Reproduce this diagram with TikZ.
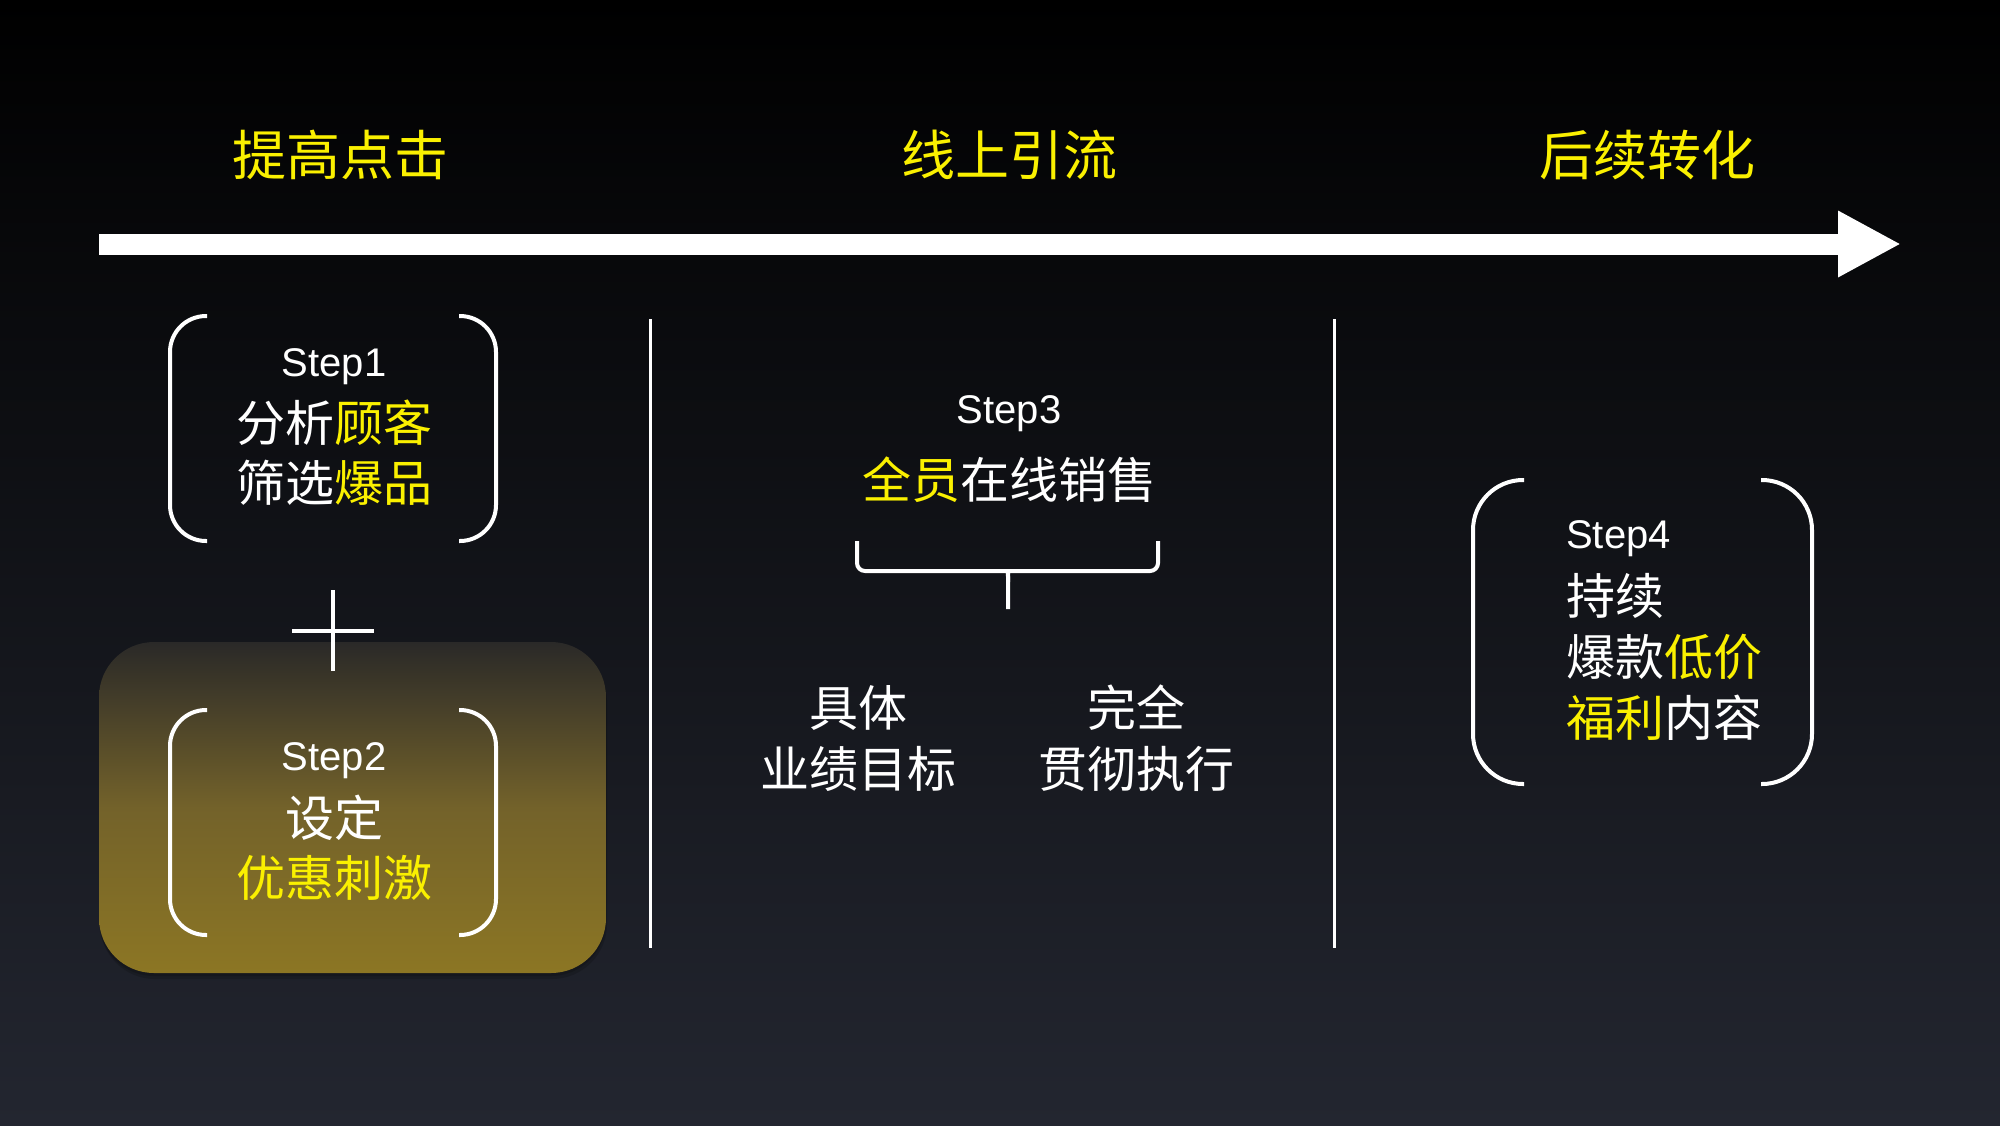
\documentclass[tikz,border=0pt]{standalone}
\usepackage{fontspec}
\setmainfont{Liberation Sans}
\newfontfamily\cjk{Noto Sans CJK SC}
\usetikzlibrary{arrows.meta}
\definecolor{bgbot}{RGB}{35,38,48}
\definecolor{ylw}{RGB}{250,240,0}
\definecolor{goldtop}{RGB}{42,41,40}
\definecolor{goldmid}{RGB}{115,98,42}
\definecolor{goldbot}{RGB}{140,118,36}
\newcommand{\yl}[1]{\textcolor{ylw}{#1}}

\begin{document}
\begin{tikzpicture}[x=1pt,y=-1pt]
  \tikzset{title/.style={text=ylw,font=\cjk\fontsize{54}{60}\selectfont,inner sep=0pt},
    body/.style={text=white,font=\cjk\fontsize{49}{59}\selectfont,inner sep=0pt},
    steplabel/.style={text=white,font=\fontsize{40}{48}\selectfont,inner sep=0pt,anchor=base},
    bracket/.style={draw=white,line width=4pt,rounded corners=#1},
    bracket/.default=36pt}

  % background
  \useasboundingbox (0,0) rectangle (2000,1125);
  \shade[top color=black,bottom color=bgbot] (0,0) rectangle (2000,1125);

  % timeline
  \node[title] (T1) at (340,155) {提高点击};
  \node[title] (T2) at (1009,155) {线上引流};
  \node[title] (T3) at (1647,155) {后续转化};
  \coordinate (L) at (99,244);
  \coordinate (R) at (1901,244);
  \draw[white,line width=21pt,-{Triangle[length=63pt,width=62pt]}] (L) -- (R);

  % step 1
  \node[steplabel] (S1) at (334,376) {Step1};
  \node[body] (S1a) at (334,423) {分析\yl{顾客}};
  \node[body] (S1b) at (334,483) {筛选\yl{爆品}};
  \draw[bracket] (207,316) -- (170,316) -- (170,541) -- (207,541);
  \draw[bracket] (459,316) -- (496,316) -- (496,541) -- (459,541);

  % step 2
  \fill[black,opacity=0.15,rounded corners=55pt] (100,646) rectangle (607,979);
  \fill[black,opacity=0.15,rounded corners=55pt] (99,644) rectangle (606,976);
  \shade[rounded corners=55pt,top color=goldtop,bottom color=goldbot,middle color=goldmid] (99,642) rectangle (606,973);
  \draw[white,line width=4pt] (292,631) -- (374,631) (333,590) -- (333,671);
  \node[steplabel] (S2) at (334,770) {Step2};
  \node[body] (S2a) at (334,818) {设定};
  \node[body,text=ylw] (S2b) at (334,878) {优惠刺激};
  \draw[bracket] (207,710) -- (170,710) -- (170,935) -- (207,935);
  \draw[bracket] (459,710) -- (496,710) -- (496,935) -- (459,935);

  \draw[white,line width=3pt] (650.5,319) -- (650.5,948) (1334,319) -- (1334,948);

  % step 3
  \node[steplabel] (S3) at (1009,423) {Step3};
  \node[body] (S3a) at (1009,480) {\yl{全员}在线销售};
  \draw[bracket=8pt] (857,541) -- (857,571) -- (999,571) [sharp corners] .. controls (1008,571) .. (1008,582) -- (1008,609);
  \draw[bracket=8pt] (1158,541) -- (1158,571) -- (1017,571) [sharp corners] .. controls (1008,571) .. (1008,582);
  \node[body] (B1) at (858,708) {具体};
  \node[body] (B2) at (858,769) {业绩目标};
  \node[body] (C1) at (1136.5,708) {完全};
  \node[body] (C2) at (1136.5,769) {贯彻执行};

  % step 4
  \node[steplabel,anchor=base west] (S4) at (1566,548) {Step4};
  \node[body,anchor=west] (S4a) at (1566,596) {持续};
  \node[body,anchor=west] (S4b) at (1566,657) {爆款\yl{低价}};
  \node[body,anchor=west] (S4c) at (1566,718) {\yl{福利}内容};
  \draw[bracket=50pt] (1524,480) -- (1473,480) -- (1473,784) -- (1524,784);
  \draw[bracket=50pt] (1761,480) -- (1812,480) -- (1812,784) -- (1761,784);
\end{tikzpicture}
\end{document}
